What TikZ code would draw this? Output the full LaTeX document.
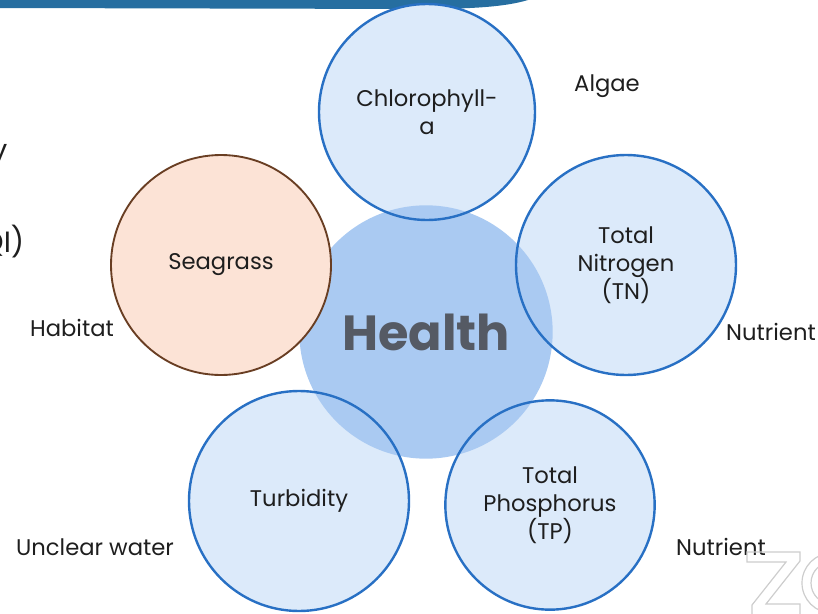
\documentclass[tikz,border=0pt]{standalone}
\usepackage{fontspec}
\setmainfont{Poppins}
\usepackage{xcolor}
\usetikzlibrary{shapes.geometric, positioning}
\definecolor{rimblue}{RGB}{40,112,196}
\definecolor{paleblue}{RGB}{220,234,250}
\definecolor{hubblue}{RGB}{170,202,242}
\definecolor{hubtext}{RGB}{85,90,100}
\definecolor{peach}{RGB}{252,227,214}
\definecolor{rimbrown}{RGB}{105,62,35}
\definecolor{inktext}{RGB}{30,30,30}
\definecolor{barblue}{RGB}{38,110,160}
\definecolor{zoomgray}{RGB}{205,205,205}
\tikzset{
  bluefill/.style={circle, fill=paleblue, inner sep=0pt},
  bluering/.style={circle, draw=rimblue, line width=1.8pt, inner sep=0pt,
                   text=inktext, align=center},
  seagrassbox/.style={circle, fill=peach, draw=rimbrown, line width=1.4pt,
                      inner sep=0pt, text=inktext, align=center},
  hub/.style={circle, fill=hubblue, inner sep=0pt, text=hubtext,
              font=\fontsize{37}{42}\selectfont\bfseries},
  tag/.style={text=inktext},
}

\begin{document}
\begin{tikzpicture}[x=0.75pt, y=-0.75pt, font=\fontsize{17}{21}\selectfont]
  \useasboundingbox (0,0) rectangle (818,614);

  % Slide leftovers
  \fill[barblue] (0,0) -- (528,0) .. controls (505,7) and (470,9) .. (420,9) -- (0,8) -- cycle;
  \node[anchor=base east, text=inktext, font=\fontsize{22}{26}\selectfont] (cuty) at (12,160) {y};
  \node[anchor=base east, text=inktext, font=\fontsize{22}{26}\selectfont] (cutqi) at (29,252) {QI)};

  % Pale fills of the blue circles
  \node[bluefill, minimum size=162pt] (chl) at (427,112) {};
  \node[bluefill, minimum size=165pt] (tn) at (626,265) {};
  \node[bluefill, minimum size=165pt] (turb) at (299,501) {};
  \node[bluefill, minimum size=157pt] (tp) at (550,505) {};

  % Centre
  \node[hub, minimum size=190pt] (health) at (426,332) {Health};

  % Rims and texts
  \node[bluering, minimum size=162pt] (chltxt) at (chl) {Chlorophyll-\\a};
  \node[bluering, minimum size=165pt] (tntxt) at (tn) {Total\\Nitrogen\\(TN)};
  \node[bluering, minimum size=165pt] (turbtxt) at (turb) {Turbidity};
  \node[bluering, minimum size=157pt] (tptxt) at (tp) {Total\\Phosphorus\\(TP)};
  \node[seagrassbox, minimum size=165pt] (sea) at (221,265) {Seagrass};

  % Outer labels
  \node[tag] (algae) at (607,86) {Algae};
  \node[tag] (habitat) at (72,328) {Habitat};
  \node[tag] (nutrtn) at (771,332) {Nutrient};
  \node[tag] (unclear) at (95,547) {Unclear water};
  \node[tag] (nutrtp) at (721,547) {Nutrient};

  % Watermark
  \draw[zoomgray, line width=0.9pt]
    (747,552) -- (800,552) -- (800,561) -- (766,604) -- (800,604) -- (800,616)
    -- (752,616) -- (752,605) -- (786,562) -- (747,562) -- cycle;
  \draw[zoomgray, line width=0.9pt] (832,583) circle (30);
  \draw[zoomgray, line width=0.9pt] (832,583) circle (21);
\end{tikzpicture}
\end{document}
